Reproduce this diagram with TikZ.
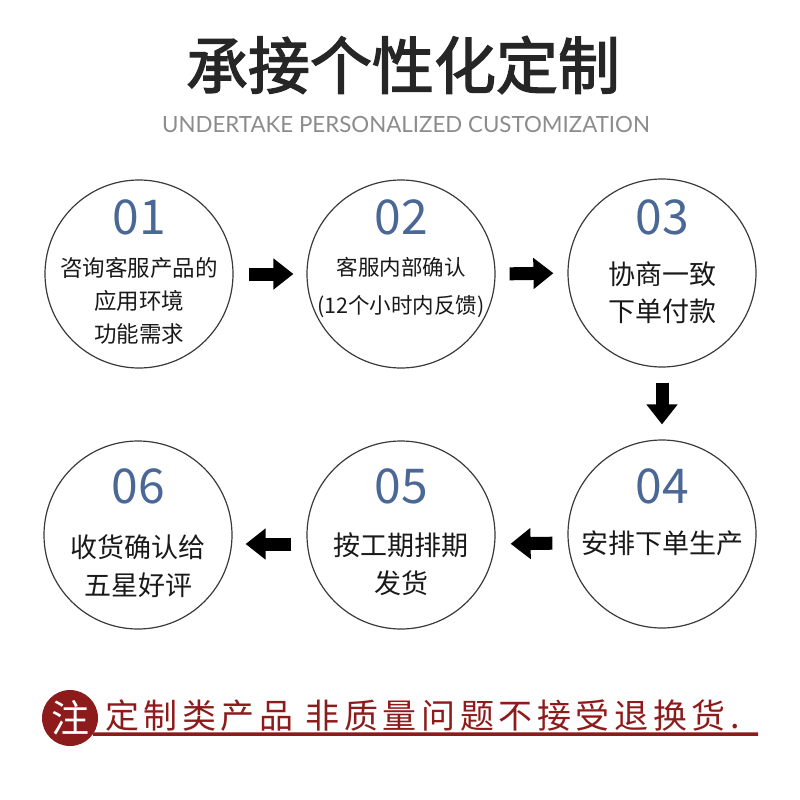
\documentclass[tikz,border=0pt]{standalone}
\usepackage{fontspec}
\setmainfont{Noto Sans CJK SC}
\newfontfamily\latofont{Lato}
\newfontfamily\headfont[FakeBold=2.2]{Noto Sans CJK SC}
\usetikzlibrary{arrows.meta, calc, positioning}

\definecolor{numblue}{HTML}{4A6796}
\definecolor{notered}{HTML}{8E1B1B}
\definecolor{inkgray}{HTML}{3A3A3A}
\definecolor{subgray}{HTML}{8C8C8C}

\tikzset{
  stepcircle/.style={circle, draw=inkgray, line width=1.2pt, minimum size=188pt, inner sep=0pt},
  num/.style={text=numblue, inner sep=0pt, font=\fontsize{48}{48}\selectfont},
  desc/.style={align=center, text=black!90, inner sep=0pt},
  flow/.style={line width=13pt, -{Triangle[length=20pt,width=30pt]}},
}

\begin{document}
\begin{tikzpicture}[x=1pt, y=-1pt]
\fill[white] (0,0) rectangle (800,800);
\useasboundingbox (0,0) rectangle (800,800);
% heading
\node[text=black!85] (title) at (403,65) {\headfont\fontsize{62}{62}\selectfont 承接个性化定制};
\node[text=subgray] (subtitle) at (406,125) {\latofont\fontsize{22.3}{22}\selectfont UNDERTAKE PERSONALIZED CUSTOMIZATION};
% steps
\node[stepcircle] (s1) at (139,274) {};
\node[stepcircle] (s2) at (401,274) {};
\node[stepcircle] (s3) at (662,273) {};
\node[stepcircle] (s4) at (662,534) {};
\node[stepcircle] (s5) at (401,535) {};
\node[stepcircle] (s6) at (138,535) {};
\node[num] (n1) at (139,217) {01};
\node[num] (n2) at (401,217) {02};
\node[num] (n3) at (662,217) {03};
\node[num] (n4) at (662,486) {04};
\node[num] (n5) at (401,486) {05};
\node[num] (n6) at (138,486) {06};
\node[desc, font=\fontsize{22.5}{33}\selectfont] (d1) at (139,301) {咨询客服产品的\\应用环境\\功能需求};
\node[desc, font=\fontsize{21.5}{38}\selectfont] (d2) at (401,287) {客服内部确认\\(12个小时内反馈)};
\node[desc, font=\fontsize{27}{37}\selectfont] (d3) at (662,293) {协商一致\\下单付款};
\node[desc, font=\fontsize{27}{27}\selectfont] (d4) at (662,543) {安排下单生产};
\node[desc, font=\fontsize{27}{38}\selectfont] (d5) at (401,564) {按工期排期\\发货};
\node[desc, font=\fontsize{27}{38}\selectfont] (d6) at (138,566) {收货确认给\\五星好评};
% arrows
\draw[flow, shorten <=15pt, shorten >=13pt] (s1.east) -- (s2.west);
\draw[flow, shorten <=14pt, shorten >=14pt] (s2.east) -- (s3.west);
\draw[flow, shorten <=15pt, shorten >=15pt] (s3.south) -- (s4.north);
\draw[flow, shorten <=15pt, shorten >=15pt] ([yshift=-9pt]s4.west) -- ([yshift=-9pt]s5.east);
\draw[flow, shorten <=15pt, shorten >=13pt] ([yshift=-9pt]s5.west) -- ([yshift=-9pt]s6.east);
% notice
\node[circle, fill=notered, minimum size=56pt, inner sep=0pt, text=white,
  font=\fontsize{38}{38}\selectfont] (note) at (70,718) {注};
\node[anchor=west, text=notered, inner sep=0pt,
  font=\fontsize{34}{34}\selectfont\addfontfeature{LetterSpace=13.5}] (notice) at (105,716) {定制类产品 非质量问题不接受退换货.};
\coordinate (lineend) at (758,734);
\draw[notered, line width=3.5pt] (note.-35) -- (lineend);
\end{tikzpicture}
\end{document}
